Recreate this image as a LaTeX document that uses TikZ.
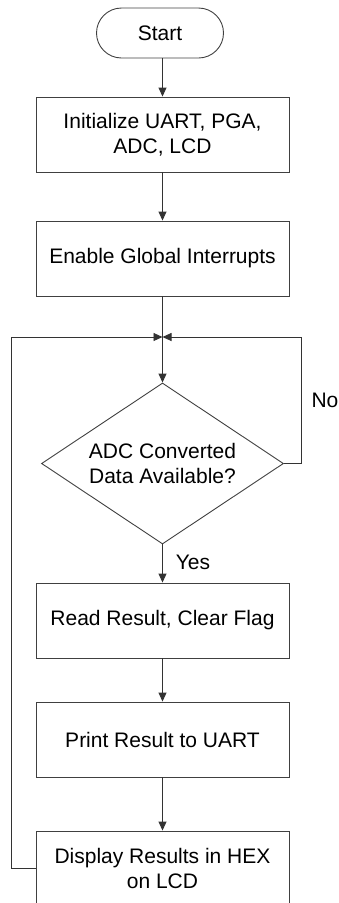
\documentclass[tikz,border=0pt]{standalone}
\usepackage{fontspec}
\setmainfont{Liberation Sans}
\usetikzlibrary{shapes.geometric,arrows.meta}
\begin{document}
\begin{tikzpicture}[x=1pt,y=1pt,
  every node/.style={font=\fontsize{21}{25}\selectfont, text=black},
  box/.style={draw=black!75, line width=0.9pt, minimum width=253pt, minimum height=75pt, inner sep=0pt, align=center},
  term/.style={draw=black!75, line width=0.9pt, minimum width=127pt, minimum height=50pt, rounded corners=25pt, inner sep=0pt},
  dec/.style={draw=black!75, line width=0.9pt, shape=diamond, aspect=1.5, minimum width=242pt, minimum height=161pt, inner sep=0pt, align=center},
  conn/.style={draw=black!80, line width=0.9pt, -{Triangle[length=9pt,width=8pt]}},
  plain/.style={draw=black!80, line width=0.9pt},
  lbl/.style={inner sep=0pt}]
\useasboundingbox (0,0) rectangle (339,-903);
\node[term] (start) at (160,-33) {Start};
\node[box] (b1) at (162.5,-134.5) {Initialize UART, PGA,\\ADC, LCD};
\node[box] (b2) at (162.5,-258.5) {Enable Global Interrupts};
\coordinate (j) at (162.5,-337);
\node[dec] (d) at (162.5,-463.5) {ADC Converted\\Data Available?};
\node[box] (b3) at (162.5,-620.5) {Read Result, Clear Flag};
\node[box] (b4) at (162.5,-739.5) {Print Result to UART};
\node[box] (b5) at (162.5,-868.5) {Display Results in HEX\\on LCD};
\node[lbl] (no) at (325,-400) {No};
\node[lbl] (yes) at (193,-562) {Yes};
\draw[conn] (start.south -| b1.north) -- (b1.north);
\draw[conn] (b1) -- (b2);
\draw[plain] (b2.south) -- (j);
\draw[conn] (j) -- (d.north);
\draw[conn] (d.south) -- (b3.north);
\draw[conn] (b3) -- (b4);
\draw[conn] (b4) -- (b5);
\draw[conn] (d.east) -- ++(17,0) |- (j);
\draw[conn] (b5.west) -- ++(-24,0) |- (j);
\end{tikzpicture}
\end{document}
